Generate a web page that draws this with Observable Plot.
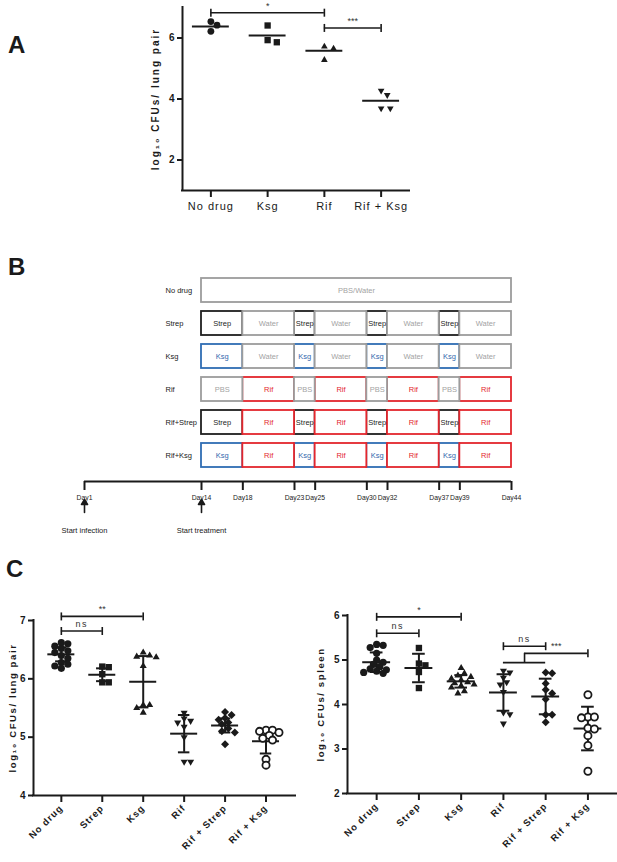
<!DOCTYPE html>
<html><head><meta charset="utf-8">
<script src="https://cdn.jsdelivr.net/npm/d3@7"></script>
<script src="https://cdn.jsdelivr.net/npm/@observablehq/plot@0.6"></script>
<style>
body{margin:0;background:#fff;}
#page{position:relative;width:617px;height:862px;overflow:hidden;font-family:"Liberation Sans",Arial,Helvetica,sans-serif;color:#1a1a1a;}
.panel{position:absolute;}
.letter{position:absolute;font-weight:bold;font-size:24px;line-height:24px;}
</style></head>
<body><div id="page">
<div class="letter" style="left:8px;top:33px">A</div>
<div class="letter" style="left:8px;top:255px">B</div>
<div class="letter" style="left:6px;top:557px">C</div>
<div class="panel" id="pA" style="left:0;top:0"></div>
<div class="panel" id="pB" style="left:0;top:270px"></div>
<div class="panel" id="pT" style="left:0;top:475px"></div>
<div class="panel" id="pCL" style="left:0;top:590px"></div>
<div class="panel" id="pCR" style="left:300px;top:590px"></div>
</div>
<script>
// ---------- Panel A data ----------
const aGroups = ["No drug", "Ksg", "Rif", "Rif + Ksg"];
const aNoDrug = [6.54, 6.42, 6.22];
const aKsg = [6.41, 5.93, 5.86];
const aRif = [5.72, 5.65, 5.28];
const aRifKsg = [4.27, 4.13, 3.69, 3.69];
const aMeans = [6.38, 6.08, 5.58, 3.94];
const aTicks = [2, 4, 6];
const aBrackets = [{from: 0, to: 2, y: 6.83, label: "*"}, {from: 2, to: 3, y: 6.33, label: "***"}];
const aYLabel = "log\u2081\u2080 CFUs/ lung pair";

// ---------- Panel B data ----------
const bRows = ["No drug", "Strep", "Ksg", "Rif", "Rif+Strep", "Rif+Ksg"];
const bPulse = [null, "Strep", "Ksg", "PBS", "Strep", "Ksg"];
const bGap = ["PBS/Water", "Water", "Water", "Rif", "Rif", "Rif"];
const bDays = [1, 14, 18, 23, 25, 30, 32, 37, 39, 44];
const bEventDays = [1, 14];
const bEventLabels = ["Start infection", "Start treatment"];

// ---------- Panel C data ----------
const cGroups = ["No drug", "Strep", "Ksg", "Rif", "Rif + Strep", "Rif + Ksg"];
const lungNoDrug = [6.60, 6.62, 6.56, 6.52, 6.48, 6.45, 6.40, 6.35, 6.28, 6.22, 6.18, 6.25];
const lungStrep = [6.21, 6.20, 6.08, 5.94, 5.94];
const lungKsg = [6.45, 6.40, 6.38, 6.37, 6.22, 5.55, 5.55, 5.50, 5.42];
const lungRif = [5.42, 5.32, 5.28, 5.25, 5.18, 5.00, 4.58, 4.58];
const lungRifStrep = [5.43, 5.38, 5.33, 5.30, 5.25, 5.22, 5.15, 5.10, 5.08, 4.88];
const lungRifKsg = [5.12, 5.12, 5.10, 5.08, 5.03, 4.98, 4.95, 4.62, 4.52];
const lungMean = [6.42, 6.07, 5.95, 5.06, 5.20, 4.93];
const lungSD = [0.12, 0.11, 0.44, 0.32, 0.12, 0.21];
const lungTicks = [4, 5, 6, 7];
const lungBrackets = [{from: 0, to: 2, y: 7.07, label: "**"}, {from: 0, to: 1, y: 6.82, label: "ns"}];
const lungYLabel = "log\u2081\u2080 CFUs/ lung pair";

const spleenNoDrug = [5.35, 5.33, 5.28, 5.15, 5.00, 4.95, 4.90, 4.85, 4.80, 4.78, 4.75, 4.72, 4.70];
const spleenStrep = [5.27, 4.92, 4.88, 4.73, 4.37];
const spleenKsg = [4.82, 4.70, 4.65, 4.62, 4.58, 4.55, 4.50, 4.48, 4.45, 4.42, 4.38, 4.30, 4.25];
const spleenRif = [4.76, 4.72, 4.60, 4.50, 4.45, 4.28, 3.82, 3.78, 3.57];
const spleenRifStrep = [4.72, 4.70, 4.47, 4.33, 4.25, 4.12, 3.77, 3.77, 3.60];
const spleenRifKsg = [4.22, 3.72, 3.72, 3.70, 3.47, 3.45, 3.30, 3.08, 2.50];
const spleenMean = [4.95, 4.82, 4.52, 4.27, 4.18, 3.46];
const spleenSD = [0.22, 0.32, 0.14, 0.41, 0.40, 0.49];
const spleenTicks = [2, 3, 4, 5, 6];
const spleenBrackets = [{from: 0, to: 2, y: 5.97, label: "*"}, {from: 0, to: 1, y: 5.60, label: "ns"}, {from: 3, to: 4, y: 5.31, label: "ns"}];
const spleenGroupBracket = {lowFrom: 3, lowTo: 4, y: 4.94, yTop: 5.15, to: 5, label: "***"};
const spleenYLabel = "log\u2081\u2080 CFUs/ spleen";

// ---------- styling ----------
const ink = "#1a1a1a";
const font = '"Liberation Sans", Arial, Helvetica, sans-serif';
const baseStyle = {fontFamily: font, background: "transparent", overflow: "visible", color: ink};

// custom symbols
const triUp = {draw(c, size) {const s = Math.sqrt(size) * 1.3, h = s * Math.sqrt(3) / 2; c.moveTo(0, -2 * h / 3); c.lineTo(s / 2, h / 3); c.lineTo(-s / 2, h / 3); c.closePath();}};
const triDown = {draw(c, size) {const s = Math.sqrt(size) * 1.3, h = s * Math.sqrt(3) / 2; c.moveTo(0, 2 * h / 3); c.lineTo(s / 2, -h / 3); c.lineTo(-s / 2, -h / 3); c.closePath();}};
const diamondSym = {draw(c, size) {const d = Math.sqrt(size) * 0.66; c.moveTo(0, -d); c.lineTo(d, 0); c.lineTo(0, d); c.lineTo(-d, 0); c.closePath();}};
const vbar = {draw(c, size) {const h = Math.sqrt(size / Math.PI); c.moveTo(0, -h); c.lineTo(0, h);}};
const arrowShape = {draw(c, l) {c.moveTo(0, 0); c.lineTo(0, -l + 5); c.moveTo(-3, -l + 5); c.lineTo(0, -l); c.lineTo(3, -l + 5); c.closePath();}};

// letter-spacing applied to rendered texts (Plot text marks have no letter-spacing option)
function spaceTexts(svg, strings, spacing) {
  const set = new Set(strings);
  svg.querySelectorAll("text").forEach(t => {
    if (set.has(t.textContent)) t.style.letterSpacing = spacing + "px";
  });
}

// simple deterministic beeswarm (pixel space), returns offsets in x data units
function swarm(values, pxX, pxY, r, gap) {
  const order = d3.range(values.length).sort((a, b) => d3.descending(values[a], values[b]));
  const placed = [], off = new Array(values.length);
  const step = r * 0.9, minDist = 2 * r * gap;
  for (const i of order) {
    const py = values[i] * pxY;
    let best = 0, bestScore = -Infinity;
    for (let k = 0; k < 9; k++) {
      const cand = k === 0 ? 0 : (k % 2 ? 1 : -1) * Math.ceil(k / 2) * step;
      let md = Infinity;
      for (const p of placed) md = Math.min(md, Math.hypot(cand - p.x, py - p.y));
      if (md >= minDist) {best = cand; break;}
      if (md > bestScore) {bestScore = md; best = cand;}
    }
    placed.push({x: best, y: py});
    off[i] = best / pxX;
  }
  return off;
}

function scatter(o) {
  const n = o.groups.length, idx = d3.range(n);
  const fw = o.width - o.ml - o.mr, fh = o.height - o.mt - o.mb;
  const pxX = fw / (o.xDomain[1] - o.xDomain[0]);
  const pxY = fh / (o.yDomain[1] - o.yDomain[0]);
  const marks = [
    Plot.ruleX([o.xDomain[0]], {stroke: ink, strokeWidth: 2, strokeLinecap: "square"}),
    Plot.ruleY([o.yDomain[0]], {stroke: ink, strokeWidth: 2, strokeLinecap: "square"}),
    Plot.axisY({ticks: o.yTicks, tickFormat: d => String(d), tickSize: 5, tickPadding: 3, strokeWidth: 2, fontSize: 10, fontWeight: "bold", label: null, color: ink}),
    Plot.axisX({ticks: idx, tickFormat: i => o.groups[i], tickSize: 7, tickPadding: o.rotate ? 4 : 5, tickRotate: o.rotate || 0, strokeWidth: 2, fontSize: o.tickFont, fontWeight: o.tickWeight, label: null, color: ink}),
    Plot.ruleY(idx, {y: i => o.means[i], x1: i => i - o.meanHalf, x2: i => i + o.meanHalf, stroke: ink, strokeWidth: 2})
  ];
  if (o.sds) {
    marks.push(Plot.ruleX(idx, {x: i => i, y1: i => o.means[i] - o.sds[i], y2: i => o.means[i] + o.sds[i], stroke: ink, strokeWidth: 2}));
    marks.push(Plot.ruleY(idx, {y: i => o.means[i] + o.sds[i], x1: i => i - o.capHalf, x2: i => i + o.capHalf, stroke: ink, strokeWidth: 2}));
    marks.push(Plot.ruleY(idx, {y: i => o.means[i] - o.sds[i], x1: i => i - o.capHalf, x2: i => i + o.capHalf, stroke: ink, strokeWidth: 2}));
  }
  o.series.forEach((vals, g) => {
    const off = swarm(vals, pxX, pxY, o.r, o.gap);
    const pts = vals.map((v, j) => ({x: g + off[j], y: v}));
    const open = o.open && o.open[g];
    marks.push(Plot.dot(pts, {x: "x", y: "y", r: o.r * (o.scale ? o.scale[g] : 1), symbol: o.symbols[g],
      fill: open ? "white" : ink, stroke: open ? ink : "none", strokeWidth: open ? 1.8 : 0}));
  });
  // significance brackets
  marks.push(Plot.ruleY(o.brackets, {y: "y", x1: "from", x2: "to", stroke: ink, strokeWidth: 1.6}));
  marks.push(Plot.dot(o.brackets.flatMap(b => [{x: b.from, y: b.y}, {x: b.to, y: b.y}]), {x: "x", y: "y", symbol: vbar, r: 4, stroke: ink, strokeWidth: 1.6, fill: "none"}));
  marks.push(Plot.text(o.brackets, {x: b => (b.from + b.to) / 2, y: "y", text: "label", dy: -7, fontSize: 9, fill: "#333"}));
  // y label
  marks.push(Plot.text([o.ylabel], {text: d => d, frameAnchor: "left", textAnchor: "middle", dx: o.ylabelDx, rotate: -90, fontSize: o.ylabelSize, fontWeight: "bold", fill: ink}));
  if (o.extra) marks.push(...o.extra);
  const svg = Plot.plot({
    width: o.width, height: o.height,
    marginLeft: o.ml, marginRight: o.mr, marginTop: o.mt, marginBottom: o.mb,
    x: {domain: o.xDomain, axis: null},
    y: {domain: o.yDomain, axis: null},
    style: baseStyle,
    marks
  });
  spaceTexts(svg, [o.ylabel], o.ylabelSpacing);
  spaceTexts(svg, o.groups, 1);
  spaceTexts(svg, ["ns"], 1.5);
  return svg;
}

// ---------- Panel A ----------
document.getElementById("pA").append(scatter({
  groups: aGroups, series: [aNoDrug, aKsg, aRif, aRifKsg], means: aMeans, sds: null,
  symbols: ["circle", "square", triUp, triDown], scale: [1, 1.05, 0.85, 0.85],
  width: 420, height: 225, ml: 182, mr: 11, mt: 7, mb: 35,
  xDomain: [-0.5, 3.5], yDomain: [1, 7], yTicks: aTicks,
  brackets: aBrackets, ylabel: aYLabel, ylabelDx: -27, ylabelSize: 10, ylabelSpacing: 2,
  rotate: 0, tickFont: 11, tickWeight: "normal", meanHalf: 0.325, r: 3.4, gap: 1.0
}));

// ---------- Panel B: schedule boxes ----------
// time track: Day1 sits before a break, days 14..44 are linear
const firstDay = bDays[0], lastDay = bDays[bDays.length - 1];
const track = d3.scaleLinear().domain([firstDay, 14, lastDay]).range([0, 0.274, 1]);
const treatDays = bDays.slice(1);
const segments = [];
bRows.forEach((row, ri) => {
  if (!bPulse[ri]) {
    segments.push({row, start: treatDays[0], end: treatDays[treatDays.length - 1], label: bGap[ri]});
  } else {
    for (let k = 0; k < treatDays.length - 1; k++) {
      segments.push({row, start: treatDays[k], end: treatDays[k + 1], label: k % 2 === 0 ? bPulse[ri] : bGap[ri]});
    }
  }
});
const boxStroke = {"Strep": "#1f1f1f", "Ksg": "#2f6db3", "Rif": "#e3262d", "PBS": "#9c9c9c", "Water": "#9c9c9c", "PBS/Water": "#9c9c9c"};
const boxText = {"Strep": "#1f1f1f", "Ksg": "#3468ad", "Rif": "#e3262d", "PBS": "#a3a3a3", "Water": "#a3a3a3", "PBS/Water": "#a3a3a3"};
const xDay = {domain: [0, 1], range: [84, 511], axis: null};
const boxMarks = [];
for (const kind of Object.keys(boxStroke)) {
  const segs = segments.filter(s => s.label === kind);
  boxMarks.push(Plot.barX(segs, {x1: d => track(d.start), x2: d => track(d.end), y: "row", fill: "white", stroke: boxStroke[kind], strokeWidth: 1.8}));
}
for (const kind of Object.keys(boxText)) {
  const segs = segments.filter(s => s.label === kind);
  boxMarks.push(Plot.text(segs, {x: d => track((d.start + d.end) / 2), y: "row", text: "label", fill: boxText[kind], fontSize: 7.5}));
}
boxMarks.push(Plot.text(bRows, {y: d => d, text: d => d, frameAnchor: "left", textAnchor: "start", fontSize: 7.5, fill: ink}));
document.getElementById("pB").append(Plot.plot({
  width: 617, height: 205, marginLeft: 165, marginRight: 0, marginTop: 0, marginBottom: 0,
  x: xDay, y: {domain: bRows, range: [-0.5, 206.5], padding: 0.27, axis: null},
  style: baseStyle, marks: boxMarks
}));

// ---------- Panel B: timeline ----------
const events = bEventDays.map((d, i) => ({day: d, label: bEventLabels[i]}));
document.getElementById("pT").append(Plot.plot({
  width: 617, height: 65, marginLeft: 84, marginRight: 106, marginTop: 6, marginBottom: 50,
  x: xDay, y: {domain: [0, 1], range: [6, 15], axis: null},
  style: baseStyle,
  marks: [
    Plot.ruleY([0], {x1: () => track(firstDay), x2: () => track(lastDay), stroke: ink, strokeWidth: 2}),
    Plot.ruleX(bDays, {x: d => track(d), y1: 0, y2: 1, stroke: ink, strokeWidth: 2}),
    Plot.text(bDays, {x: d => track(d), y: () => 1, dy: 7, text: d => "Day" + d, fontSize: 6.8, fill: ink}),
    Plot.vector(events, {x: d => track(d.day), y: () => 1, dy: 22, length: 13, rotate: 0, anchor: "start", shape: arrowShape, stroke: ink, fill: ink, strokeWidth: 1.6}),
    Plot.text(events, {x: d => track(d.day), y: () => 1, dy: 40, text: "label", fontSize: 7.5, fill: ink})
  ]
}));

// ---------- Panel C ----------
const cSymbols = ["circle", "square", triUp, triDown, diamondSym, "circle"];
const cScale = [1, 1.0, 0.85, 0.85, 0.95, 1];
const cOpen = [false, false, false, false, false, true];
document.getElementById("pCL").append(scatter({
  groups: cGroups, series: [lungNoDrug, lungStrep, lungKsg, lungRif, lungRifStrep, lungRifKsg],
  means: lungMean, sds: lungSD, symbols: cSymbols, scale: cScale, open: cOpen,
  width: 300, height: 272, ml: 33, mr: 5, mt: 30, mb: 67,
  xDomain: [-0.68, 5.72], yDomain: [4, 7], yTicks: lungTicks,
  brackets: lungBrackets, ylabel: lungYLabel, ylabelDx: -21, ylabelSize: 9.5, ylabelSpacing: 1.6,
  rotate: -45, tickFont: 9.5, tickWeight: "bold", meanHalf: 0.33, capHalf: 0.14, r: 3.6, gap: 0.75
}));

const gb = spleenGroupBracket;
const spleenExtra = [
  Plot.ruleY([gb], {y: "y", x1: "lowFrom", x2: "lowTo", stroke: ink, strokeWidth: 1.6}),
  Plot.ruleX([gb], {x: d => (d.lowFrom + d.lowTo) / 2, y1: "y", y2: "yTop", stroke: ink, strokeWidth: 1.6}),
  Plot.ruleY([gb], {y: "yTop", x1: d => (d.lowFrom + d.lowTo) / 2, x2: "to", stroke: ink, strokeWidth: 1.6}),
  Plot.dot([gb], {x: "to", y: "yTop", symbol: vbar, r: 4, stroke: ink, strokeWidth: 1.6, fill: "none"}),
  Plot.text([gb], {x: d => ((d.lowFrom + d.lowTo) / 2 + d.to) / 2, y: "yTop", text: "label", dy: -7, fontSize: 9, fill: "#333"})
];
document.getElementById("pCR").append(scatter({
  groups: cGroups, series: [spleenNoDrug, spleenStrep, spleenKsg, spleenRif, spleenRifStrep, spleenRifKsg],
  means: spleenMean, sds: spleenSD, symbols: cSymbols, scale: cScale, open: cOpen,
  width: 317, height: 272, ml: 47, mr: 0, mt: 25, mb: 69,
  xDomain: [-0.69, 5.7], yDomain: [2, 6], yTicks: spleenTicks,
  brackets: spleenBrackets, ylabel: spleenYLabel, ylabelDx: -27, ylabelSize: 9.5, ylabelSpacing: 1.6,
  rotate: -45, tickFont: 9.5, tickWeight: "bold", meanHalf: 0.33, capHalf: 0.15, r: 3.6, gap: 0.75,
  extra: spleenExtra
}));
</script>
</body></html>
